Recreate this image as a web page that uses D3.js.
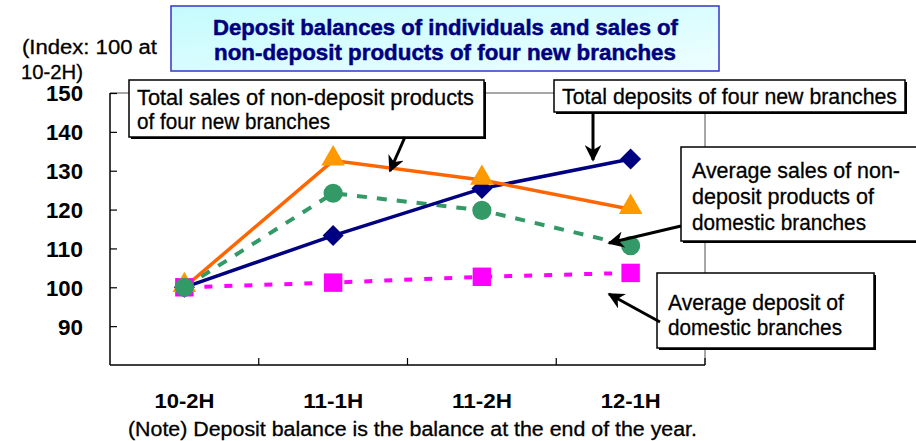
<!DOCTYPE html>
<html>
<head>
<meta charset="utf-8">
<script src="https://cdn.jsdelivr.net/npm/d3@7"></script>
<style>
  html, body { margin: 0; padding: 0; background: #fff; }
  svg { display: block; }
  text { font-family: "Liberation Sans", Arial, sans-serif; }
</style>
</head>
<body>
<svg id="chart" width="916" height="441"></svg>
<script>
// Half-year periods on the horizontal axis
const periods = ["10-2H", "11-1H", "11-2H", "12-1H"];

// Index values (10-2H = 100)
const totalDeposits = [100, 113.3, 125.4, 133.0];      // four new branches
const totalSales = [100, 132.6, 127.6, 120.1];         // non-deposit products, four new branches
const avgSalesDomestic = [100, 124.2, 119.8, 110.7];   // non-deposit products, domestic branches
const avgDepositDomestic = [100, 101.2, 102.7, 103.7]; // domestic branches

const yTicks = [90, 100, 110, 120, 130, 140, 150];

const svg = d3.select("#chart");

const plot = { left: 110, right: 705, top: 93, bottom: 365 };

const x = d3.scaleBand().domain(periods).range([plot.left, plot.right]).padding(0);
const y = d3.scaleLinear().domain([80, 150]).range([plot.bottom, plot.top]);
const cx = d => x(d) + x.bandwidth() / 2;

// defs: title gradient and arrow head
const defs = svg.append("defs");
const grad = defs.append("linearGradient").attr("id", "titleFill")
  .attr("x1", 0).attr("y1", 0).attr("x2", 1).attr("y2", 1);
grad.append("stop").attr("offset", "0%").attr("stop-color", "#c4fbfd");
grad.append("stop").attr("offset", "100%").attr("stop-color", "#eefeff");

defs.append("marker").attr("id", "arrow")
  .attr("viewBox", "0 0 10 10").attr("refX", 9).attr("refY", 5)
  .attr("markerWidth", 5.5).attr("markerHeight", 5.5)
  .attr("markerUnits", "strokeWidth")
  .attr("orient", "auto")
  .append("path").attr("d", "M0,0 L10,5 L0,10 L3,5 Z").attr("fill", "#000");

// plot frame: grey top and right borders
svg.append("path")
  .attr("d", `M${plot.left},${plot.top} H${plot.right} V${plot.bottom}`)
  .attr("fill", "none").attr("stroke", "#8a8a8a").attr("stroke-width", 1.5);

// y axis with inward ticks
const yAxis = svg.append("g").attr("transform", `translate(${plot.left},0)`)
  .call(d3.axisLeft(y).tickValues(yTicks).tickSize(-7).tickSizeOuter(0).tickFormat(d3.format("d")));
yAxis.select(".domain").attr("stroke", "#000").attr("stroke-width", 1.5)
  .attr("d", `M0,${plot.top}V${plot.bottom}`);
yAxis.selectAll(".tick line").attr("stroke", "#000").attr("stroke-width", 1.2);
yAxis.selectAll(".tick text")
  .attr("x", -27)
  .attr("font-size", 22).attr("font-weight", "bold").attr("fill", "#000")
  .attr("textLength", 37).attr("lengthAdjust", "spacingAndGlyphs")
  .attr("dy", "0.36em")
  .filter(d => d < 100).attr("textLength", 25);

// x axis with inward ticks at period boundaries
const xAxisG = svg.append("g").attr("transform", `translate(0,${plot.bottom})`);
xAxisG.append("line").attr("x1", plot.left).attr("x2", plot.right)
  .attr("stroke", "#000").attr("stroke-width", 1.5);
const bounds = periods.slice(1).map(p => x(p)).concat([plot.right]);
xAxisG.selectAll("line.tick").data(bounds).join("line").attr("class", "tick")
  .attr("x1", d => d).attr("x2", d => d).attr("y1", 0).attr("y2", -7)
  .attr("stroke", "#000").attr("stroke-width", 1.2);
xAxisG.selectAll("text").data(periods).join("text")
  .attr("x", d => cx(d)).attr("y", 43)
  .attr("text-anchor", "middle")
  .attr("font-size", 21).attr("font-weight", "bold").attr("fill", "#000")
  .attr("textLength", 60).attr("lengthAdjust", "spacingAndGlyphs")
  .text(d => d);

// unit label
svg.append("text").attr("x", 22).attr("y", 54).attr("font-size", 20).attr("fill", "#000")
  .attr("stroke", "#000").attr("stroke-width", 0.3)
  .attr("textLength", 135).attr("lengthAdjust", "spacingAndGlyphs").text("(Index: 100 at");
svg.append("text").attr("x", 21).attr("y", 79).attr("font-size", 20).attr("fill", "#000")
  .attr("stroke", "#000").attr("stroke-width", 0.3)
  .attr("textLength", 62).attr("lengthAdjust", "spacingAndGlyphs").text("10-2H)");

// series lines
const seriesDefs = [
  { name: "Average deposit of domestic branches", values: avgDepositDomestic, color: "#ff00ff", width: 4, dash: "8,12", marker: "square" },
  { name: "Average sales of non-deposit products of domestic branches", values: avgSalesDomestic, color: "#339966", width: 4, dash: "10,10", marker: "circle" },
  { name: "Total deposits of four new branches", values: totalDeposits, color: "#000080", width: 3.5, dash: null, marker: "diamond" },
  { name: "Total sales of non-deposit products of four new branches", values: totalSales, color: "#ff6600", width: 3.5, dash: null, marker: "triangle" }
];

const line = d3.line().x((d, i) => cx(periods[i])).y(d => y(d));

svg.append("g").selectAll("path").data(seriesDefs).join("path")
  .attr("d", s => line(s.values))
  .attr("fill", "none")
  .attr("stroke", s => s.color)
  .attr("stroke-width", s => s.width)
  .attr("stroke-dasharray", s => s.dash);

// markers (drawn after all lines)
const markerStyle = {
  square: { type: d3.symbolSquare, size: 340, color: "#ff00ff" },
  diamond: { type: d3.symbolSquare, size: 220, color: "#000080", rotate: 45 },
  triangle: { type: d3.symbolTriangle, size: 240, color: "#ff9900" },
  circle: { type: d3.symbolCircle, size: 290, color: "#339966" }
};
const markerOrder = ["square", "diamond", "triangle", "circle"];
markerOrder.forEach(m => {
  const s = seriesDefs.find(d => d.marker === m);
  const st = markerStyle[m];
  svg.append("g").selectAll("path").data(s.values).join("path")
    .attr("d", d3.symbol().type(st.type).size(st.size))
    .attr("transform", (d, i) => `translate(${cx(periods[i])},${y(d) + (m === "triangle" ? -2 : 0)})${st.rotate ? " rotate(" + st.rotate + ")" : ""}`)
    .attr("fill", st.color);
});

// title box
svg.append("rect").attr("x", 171).attr("y", 6).attr("width", 548).attr("height", 65)
  .attr("fill", "url(#titleFill)").attr("stroke", "#3434c8").attr("stroke-width", 1.5);
svg.append("text").attr("x", 213).attr("y", 35).attr("font-size", 22).attr("font-weight", "bold")
  .attr("fill", "#00007f").attr("stroke", "#00007f").attr("stroke-width", 0.5)
  .attr("textLength", 465).attr("lengthAdjust", "spacingAndGlyphs")
  .text("Deposit balances of individuals and sales of");
svg.append("text").attr("x", 214).attr("y", 60).attr("font-size", 22).attr("font-weight", "bold")
  .attr("fill", "#00007f").attr("stroke", "#00007f").attr("stroke-width", 0.5)
  .attr("textLength", 462).attr("lengthAdjust", "spacingAndGlyphs")
  .text("non-deposit products of four new branches");

// annotation callouts
const callouts = [
  { box: [129, 80, 355, 57], lines: [["Total sales of non-deposit products", 137, 105, 337], ["of four new branches", 137, 129, 193]] },
  { box: [554, 80, 351, 32], lines: [["Total deposits of four new branches", 562, 104, 335]] },
  { box: [681, 147, 240, 94], lines: [["Average sales of non-", 692, 178, 208], ["deposit products of", 692, 204, 182], ["domestic branches", 692, 230, 174]] },
  { box: [657, 273, 217, 75], lines: [["Average deposit of", 668, 310, 176], ["domestic branches", 668, 335, 174]] }
];
callouts.forEach(c => {
  const [bx, by, bw, bh] = c.box;
  svg.append("rect").attr("x", bx + 2).attr("y", by + 2).attr("width", bw).attr("height", bh)
    .attr("fill", "#000");
  svg.append("rect").attr("x", bx).attr("y", by).attr("width", bw).attr("height", bh)
    .attr("fill", "#fff").attr("stroke", "#000").attr("stroke-width", 1.5);
  c.lines.forEach(([t, tx, ty, tl]) => {
    svg.append("text").attr("x", tx).attr("y", ty).attr("font-size", 22).attr("fill", "#000")
      .attr("stroke", "#000").attr("stroke-width", 0.3)
      .attr("textLength", tl).attr("lengthAdjust", "spacingAndGlyphs").text(t);
  });
});

// arrows from callouts to their series
const arrows = [
  [[405, 137], [390, 171]],
  [[593, 112], [593, 160]],
  [[681, 226], [609, 243]],
  [[660, 322], [609, 294]]
];
svg.append("g").selectAll("line").data(arrows).join("line")
  .attr("x1", d => d[0][0]).attr("y1", d => d[0][1])
  .attr("x2", d => d[1][0]).attr("y2", d => d[1][1])
  .attr("stroke", "#000").attr("stroke-width", 3)
  .attr("marker-end", "url(#arrow)");

// footnote
svg.append("text").attr("x", 128).attr("y", 436).attr("font-size", 20).attr("fill", "#000")
  .attr("stroke", "#000").attr("stroke-width", 0.3)
  .attr("textLength", 569).attr("lengthAdjust", "spacingAndGlyphs")
  .text("(Note) Deposit balance is the balance at the end of the year.");
</script>
</body>
</html>
